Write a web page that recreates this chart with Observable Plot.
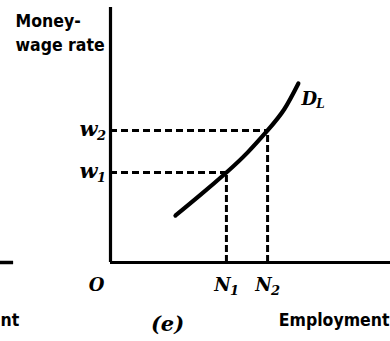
<!DOCTYPE html>
<html><head><meta charset="utf-8">
<script src="https://cdn.jsdelivr.net/npm/d3@7"></script>
<script src="https://cdn.jsdelivr.net/npm/@observablehq/plot@0.6"></script>
<style>body{margin:0;background:#fff}</style>
</head><body><div id="chart"></div>
<script>
// Demand curve for labour D_L (employment, money-wage)
const curveN = [23.2, 32, 41.4, 49, 56.1, 62, 67.1];
const curveW = [18.4, 26.4, 35.3, 43.2, 51.8, 60, 70.2];
// reference levels
const wageNames = ["w", "w"];
const wageSubs = ["1", "2"];
const wageValues = [35.3, 51.8];
const empNames = ["N", "N"];
const empSubs = ["1", "2"];
const empValues = [41.4, 56.1];
const axisLabelY = ["Money-", "wage rate"];
const axisLabelX = "Employment";
const fragmentLabel = "nt";
const panelLabel = "(e)";
const curveLabel = "D";
const curveSub = "L";

const curve = curveN.map((n, i) => ({n, w: curveW[i]}));
const refs = wageValues.map((w, i) => ({w, n: empValues[i], wn: wageNames[i], ws: wageSubs[i], nn: empNames[i], ns: empSubs[i]}));
const serif = "'DejaVu Serif', 'Liberation Serif', serif";
const sans = "'DejaVu Sans Condensed', 'Liberation Sans Narrow', 'Liberation Sans', sans-serif";

const chart = Plot.plot({
  width: 390, height: 341,
  marginLeft: 110, marginRight: 0, marginTop: 7, marginBottom: 79,
  x: {domain: [0, 100], axis: null},
  y: {domain: [0, 100], axis: null},
  marks: [
    // dashed guides
    Plot.ruleY(refs, {y: "w", x1: 0, x2: "n", stroke: "black", strokeWidth: 3, strokeDasharray: "7,4"}),
    Plot.ruleX(refs, {x: "n", y1: 0, y2: "w", stroke: "black", strokeWidth: 3, strokeDasharray: "7,3"}),
    // axes
    Plot.ruleX([0], {y1: 0, y2: 100, stroke: "black", strokeWidth: 3.2}),
    Plot.ruleY([0], {x1: 0, x2: 100, stroke: "black", strokeWidth: 3.2}),
    // neighbouring panel fragment
    Plot.ruleY([0], {x1: -40, x2: -34.6, stroke: "black", strokeWidth: 3.5}),
    // curve
    Plot.line(curve, {x: "n", y: "w", curve: "natural", stroke: "black", strokeWidth: 4.2}),
    // wage labels
    Plot.text(refs, {x: 0, y: "w", text: "wn", dx: -22, dy: -1, fontSize: 21, fontWeight: "bold", fontStyle: "italic", fontFamily: serif, textAnchor: "middle"}),
    Plot.text(refs, {x: 0, y: "w", text: "ws", dx: -9, dy: 5, fontSize: 13, fontWeight: "bold", fontStyle: "italic", fontFamily: serif, textAnchor: "middle"}),
    // employment labels
    Plot.text(refs, {x: "n", y: 0, text: "nn", dx: -4, dy: 23, fontSize: 18, fontWeight: "bold", fontStyle: "italic", fontFamily: serif, textAnchor: "middle"}),
    Plot.text(refs, {x: "n", y: 0, text: "ns", dx: 8, dy: 28, fontSize: 13, fontWeight: "bold", fontStyle: "italic", fontFamily: serif, textAnchor: "middle"}),
    // origin
    Plot.text(["O"], {x: 0, y: 0, text: d => d, dx: -14, dy: 23, fontSize: 18, fontWeight: "bold", fontStyle: "italic", fontFamily: serif, textAnchor: "middle"}),
    // curve label
    Plot.text([curve[curve.length - 1]], {x: "n", y: "w", text: () => curveLabel, dx: 11, dy: 16, fontSize: 18, fontWeight: "bold", fontStyle: "italic", fontFamily: serif, textAnchor: "middle"}),
    Plot.text([curve[curve.length - 1]], {x: "n", y: "w", text: () => curveSub, dx: 22, dy: 21, fontSize: 12, fontWeight: "bold", fontStyle: "italic", fontFamily: serif, textAnchor: "middle"}),
    // axis titles
    Plot.text([axisLabelY[0]], {x: 0, y: 100, text: d => d, dx: -95, dy: 14, textAnchor: "start", fontSize: 17.5, fontWeight: "bold", fontFamily: sans}),
    Plot.text([axisLabelY[1]], {x: 0, y: 100, text: d => d, dx: -95, dy: 38, textAnchor: "start", fontSize: 17.5, fontWeight: "bold", fontFamily: sans}),
    Plot.text([axisLabelX], {x: 100, y: 0, text: d => d, dx: -1, dy: 58, textAnchor: "end", fontSize: 17.5, fontWeight: "bold", fontFamily: sans}),
    Plot.text([fragmentLabel], {x: 0, y: 0, text: d => d, dx: -110, dy: 58, textAnchor: "start", fontSize: 17.5, fontWeight: "bold", fontFamily: sans}),
    Plot.text([panelLabel], {x: 0, y: 0, text: d => d, dx: 57, dy: 62, textAnchor: "middle", fontSize: 21, fontWeight: "bold", fontStyle: "italic", fontFamily: serif})
  ]
});
document.getElementById("chart").append(chart);
</script>
</body></html>
